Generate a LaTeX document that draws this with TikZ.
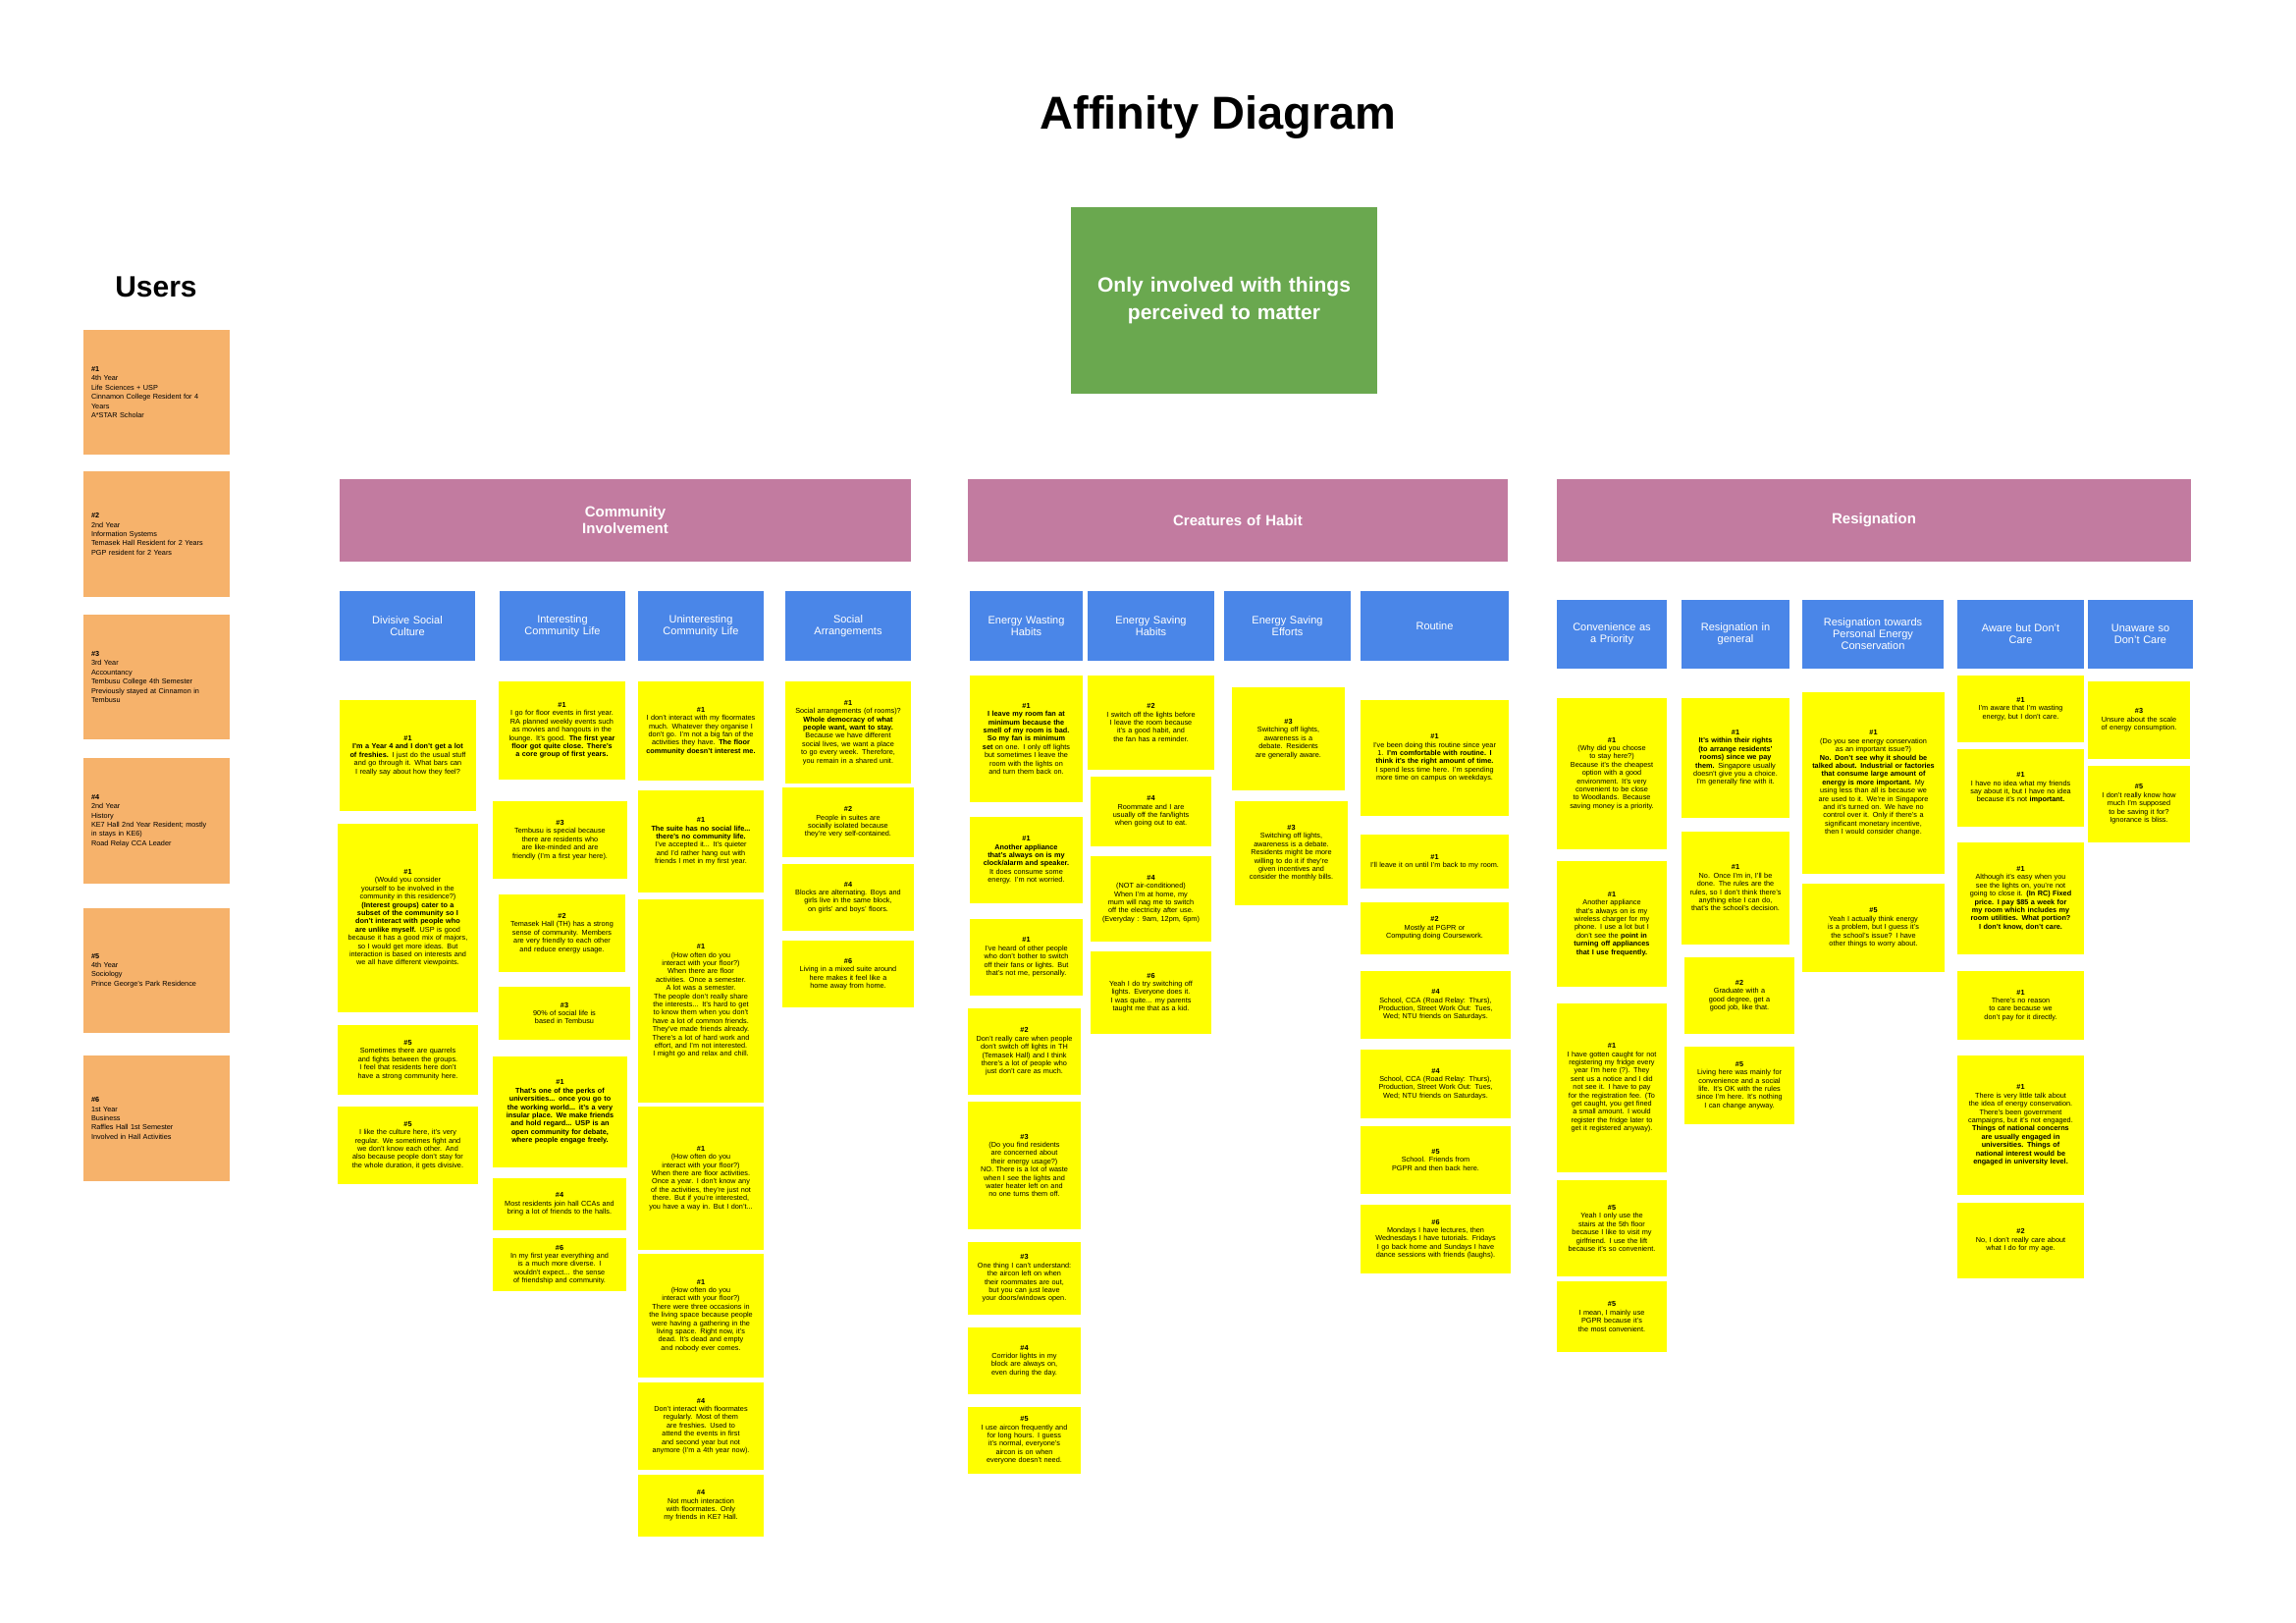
\documentclass[tikz,border=0pt]{standalone}
\usepackage{fontspec}
\setmainfont{Liberation Sans}
\definecolor{noteyellow}{HTML}{FFFF00}
\definecolor{userorange}{HTML}{F6B26B}
\definecolor{catpink}{HTML}{C27BA0}
\definecolor{subblue}{HTML}{4A86E8}
\definecolor{themegreen}{HTML}{6AA84F}
\hyphenpenalty=10000
\exhyphenpenalty=10000
\newcommand{\nr}[1]{\textbf{\##1}}
% \cardbox{style}{name}{x1}{y1}{x2}{y2}{text}: a filled card with its top left corner at (x1,y1)
\newcommand{\cardbox}[7]{%
  \pgfmathsetmacro{\cw}{#5-#3}%
  \pgfmathsetmacro{\ch}{#6-#4}%
  \pgfmathsetmacro{\ct}{#5-#3-16}%
  \node[#1, minimum width=\cw pt, minimum height=\ch pt, text width=\ct pt] (#2) at (#3,#4) {#7};}
\begin{document}
\begin{tikzpicture}[x=1pt,y=-1pt,
  card/.style={draw=none, inner sep=2pt, outer sep=0pt, anchor=north west, align=center},
  note/.style={card, fill=noteyellow, text=black, font=\fontsize{7.3}{8.4}\selectfont},
  user/.style={card, fill=userorange, text=black, align=left, font=\fontsize{7.3}{9.4}\selectfont},
  sub/.style={card, fill=subblue, text=white, font=\fontsize{11}{12}\selectfont},
  cat/.style={card, fill=catpink, text=white, font=\bfseries\fontsize{15}{17}\selectfont},
  theme/.style={card, fill=themegreen, text=white, font=\bfseries\fontsize{21}{28}\selectfont}]
\useasboundingbox[fill=white] (0,0) rectangle (2339,1653);

% titles
\node[font=\bfseries\fontsize{47}{56}\selectfont, anchor=base] (title) at (1241,132) {Affinity Diagram};
\node[font=\bfseries\fontsize{30}{36}\selectfont, anchor=base] (users) at (159,302) {Users};
\cardbox{theme}{theme}{1091}{211}{1403}{401}{Only involved with things\\ perceived to matter}

% users
\cardbox{user}{u1}{85}{336}{234}{463}{\nr{1}\\ 4th Year\\ Life Sciences + USP\\ Cinnamon College Resident for 4\\ Years\\ A*STAR Scholar}
\cardbox{user}{u2}{85}{480}{234}{608}{\nr{2}\\ 2nd Year\\ Information Systems\\ Temasek Hall Resident for 2 Years\\ PGP resident for 2 Years}
\cardbox{user}{u3}{85}{626}{234}{753}{\nr{3}\\ 3rd Year\\ Accountancy\\ Tembusu College 4th Semester\\ Previously stayed at Cinnamon in\\ Tembusu}
\cardbox{user}{u4}{85}{772}{234}{900}{\nr{4}\\ 2nd Year\\ History\\ KE7 Hall 2nd Year Resident; mostly\\ in stays in KE6)\\ Road Relay CCA Leader}
\cardbox{user}{u5}{85}{925}{234}{1052}{\nr{5}\\ 4th Year\\ Sociology\\ Prince George's Park Residence}
\cardbox{user}{u6}{85}{1075}{234}{1203}{\nr{6}\\ 1st Year\\ Business\\ Raffles Hall 1st Semester\\ Involved in Hall Activities}

% categories
\cardbox{cat}{catA}{346}{488}{928}{572}{Community\\ Involvement}
\cardbox{cat}{catB}{986}{488}{1536}{572}{Creatures of Habit}
\cardbox{cat}{catC}{1586}{488}{2232}{572}{Resignation}

% sub-categories
\cardbox{sub}{s1}{346}{602}{484}{673}{Divisive Social\\ Culture}
\cardbox{sub}{s2}{509}{602}{637}{673}{Interesting\\ Community Life}
\cardbox{sub}{s3}{650}{602}{778}{673}{Uninteresting\\ Community Life}
\cardbox{sub}{s4}{800}{602}{928}{673}{Social\\ Arrangements}
\cardbox{sub}{s5}{988}{602}{1103}{673}{Energy Wasting\\ Habits}
\cardbox{sub}{s6}{1108}{602}{1237}{673}{Energy Saving\\ Habits}
\cardbox{sub}{s7}{1247}{602}{1376}{673}{Energy Saving\\ Efforts}
\cardbox{sub}{s8}{1386}{602}{1537}{673}{Routine}
\cardbox{sub}{s9}{1586}{611}{1698}{681}{Convenience as\\ a Priority}
\cardbox{sub}{s10}{1713}{611}{1823}{681}{Resignation in\\ general}
\cardbox{sub}{s11}{1836}{611}{1980}{681}{Resignation towards\\ Personal Energy\\ Conservation}
\cardbox{sub}{s12}{1994}{611}{2123}{681}{Aware but Don't\\ Care}
\cardbox{sub}{s13}{2127}{611}{2234}{681}{Unaware so\\ Don't Care}

% Divisive Social Culture
\cardbox{note}{d1}{346}{713}{485}{826}{\nr{1}\\ \textbf{I'm a Year 4 and I don't get a lot of freshies.} I just do the usual stuff and go through it. What bars can I really say about how they feel?}
\cardbox{note}{d2}{344}{839}{487}{1031}{\nr{1}\\ (Would you consider yourself to be involved in the community in this residence?)\\ \textbf{(Interest groups) cater to a subset of the community so I don't interact with people who are unlike myself.} USP is good because it has a good mix of majors, so I would get more ideas. But interaction is based on interests and we all have different viewpoints.}
\cardbox{note}{d3}{344}{1044}{487}{1115}{\nr{5}\\ Sometimes there are quarrels and fights between the groups. I feel that residents here don't have a strong community here.}
\cardbox{note}{d4}{344}{1127}{487}{1206}{\nr{5}\\ I like the culture here, it's very regular. We sometimes fight and we don't know each other. And also because people don't stay for the whole duration, it gets divisive.}

% Interesting Community Life
\cardbox{note}{i1}{508}{694}{637}{794}{\nr{1}\\ I go for floor events in first year. RA planned weekly events such as movies and hangouts in the lounge. It's good. \textbf{The first year floor got quite close. There's a core group of first years.}}
\cardbox{note}{i2}{502}{816}{639}{895}{\nr{3}\\ Tembusu is special because there are residents who are like-minded and are friendly (I'm a first year here).}
\cardbox{note}{i3}{508}{911}{637}{990}{\nr{2}\\ Temasek Hall (TH) has a strong sense of community. Members are very friendly to each other and reduce energy usage.}
\cardbox{note}{i4}{508}{1005}{642}{1059}{\nr{3}\\ 90\% of social life is based in Tembusu}
\cardbox{note}{i5}{502}{1076}{639}{1189}{\nr{1}\\ \textbf{That's one of the perks of universities... once you go to the working world... it's a very insular place. We make friends and hold regard... USP is an open community for debate, where people engage freely.}}
\cardbox{note}{i6}{502}{1200}{638}{1253}{\nr{4}\\ Most residents join hall CCAs and bring a lot of friends to the halls.}
\cardbox{note}{i7}{502}{1261}{638}{1315}{\nr{6}\\ In my first year everything and is a much more diverse. I wouldn't expect... the sense of friendship and community.}

% Uninteresting Community Life
\cardbox{note}{x1}{650}{694}{778}{795}{\nr{1}\\ I don't interact with my floormates much. Whatever they organise I don't go. I'm not a big fan of the activities they have. \textbf{The floor community doesn't interest me.}}
\cardbox{note}{x2}{650}{805}{778}{909}{\nr{1}\\ \textbf{The suite has no social life... there's no community life.} I've accepted it... It's quieter and I'd rather hang out with friends I met in my first year.}
\cardbox{note}{x3}{650}{916}{778}{1123}{\nr{1}\\ (How often do you interact with your floor?)\\ When there are floor activities. Once a semester. A lot was a semester.\\ The people don't really share the interests... It's hard to get to know them when you don't have a lot of common friends. They've made friends already. There's a lot of hard work and effort, and I'm not interested. I might go and relax and chill.}
\cardbox{note}{x4}{650}{1127}{778}{1273}{\nr{1}\\ (How often do you interact with your floor?)\\ When there are floor activities. Once a year. I don't know any of the activities, they're just not there. But if you're interested, you have a way in. But I don't...}
\cardbox{note}{x5}{650}{1277}{778}{1403}{\nr{1}\\ (How often do you interact with your floor?)\\ There were three occasions in the living space because people were having a gathering in the living space. Right now, it's dead. It's dead and empty and nobody ever comes.}
\cardbox{note}{x6}{650}{1408}{778}{1497}{\nr{4}\\ Don't interact with floormates regularly. Most of them are freshies. Used to attend the events in first and second year but not anymore (I'm a 4th year now).}
\cardbox{note}{x7}{650}{1502}{778}{1565}{\nr{4}\\ Not much interaction with floormates. Only my friends in KE7 Hall.}

% Social Arrangements
\cardbox{note}{sa1}{800}{694}{928}{798}{\nr{1}\\ Social arrangements (of rooms)?\\ \textbf{Whole democracy of what people want, want to stay.} Because we have different social lives, we want a place to go every week. Therefore, you remain in a shared unit.}
\cardbox{note}{sa2}{797}{802}{931}{873}{\nr{2}\\ People in suites are socially isolated because they're very self-contained.}
\cardbox{note}{sa3}{797}{880}{931}{948}{\nr{4}\\ Blocks are alternating. Boys and girls live in the same block, on girls' and boys' floors.}
\cardbox{note}{sa4}{797}{958}{931}{1026}{\nr{6}\\ Living in a mixed suite around here makes it feel like a home away from home.}

% Energy Wasting Habits
\cardbox{note}{w1}{988}{688}{1103}{817}{\nr{1}\\ \textbf{I leave my room fan at minimum because the smell of my room is bad. So my fan is minimum set} on one. I only off lights but sometimes I leave the room with the lights on and turn them back on.}
\cardbox{note}{w2}{988}{832}{1103}{920}{\nr{1}\\ \textbf{Another appliance that's always on is my clock/alarm and speaker.} It does consume some energy. I'm not worried.}
\cardbox{note}{w3}{988}{936}{1103}{1014}{\nr{1}\\ I've heard of other people who don't bother to switch off their fans or lights. But that's not me, personally.}
\cardbox{note}{w4}{986}{1027}{1101}{1115}{\nr{2}\\ Don't really care when people don't switch off lights in TH (Temasek Hall) and I think there's a lot of people who just don't care as much.}
\cardbox{note}{w5}{986}{1122}{1101}{1252}{\nr{3}\\ (Do you find residents are concerned about their energy usage?)\\ NO. There is a lot of waste when I see the lights and water heater left on and no one turns them off.}
\cardbox{note}{w6}{986}{1265}{1101}{1339}{\nr{3}\\ One thing I can't understand: the aircon left on when their roommates are out, but you can just leave your doors/windows open.}
\cardbox{note}{w7}{986}{1352}{1101}{1420}{\nr{4}\\ Corridor lights in my block are always on, even during the day.}
\cardbox{note}{w8}{986}{1433}{1101}{1501}{\nr{5}\\ I use aircon frequently and for long hours. I guess it's normal, everyone's aircon is on when everyone doesn't need.}

% Energy Saving Habits
\cardbox{note}{h1}{1108}{688}{1237}{784}{\nr{2}\\ I switch off the lights before I leave the room because it's a good habit, and the fan has a reminder.}
\cardbox{note}{h2}{1111}{791}{1234}{862}{\nr{4}\\ Roommate and I are usually off the fan/lights when going out to eat.}
\cardbox{note}{h3}{1111}{872}{1234}{959}{\nr{4}\\ (NOT air-conditioned)\\ When I'm at home, my mum will nag me to switch off the electricity after use. (Everyday : 9am, 12pm, 6pm)}
\cardbox{note}{h4}{1111}{969}{1234}{1053}{\nr{6}\\ Yeah I do try switching off lights. Everyone does it. I was quite... my parents taught me that as a kid.}

% Energy Saving Efforts
\cardbox{note}{e1}{1255}{700}{1370}{805}{\nr{3}\\ Switching off lights, awareness is a debate. Residents are generally aware.}
\cardbox{note}{e2}{1258}{816}{1373}{922}{\nr{3}\\ Switching off lights, awareness is a debate. Residents might be more willing to do it if they're given incentives and consider the monthly bills.}

% Routine
\cardbox{note}{r1}{1386}{713}{1537}{831}{\nr{1}\\ I've been doing this routine since year 1. \textbf{I'm comfortable with routine. I think it's the right amount of time.} I spend less time here. I'm spending more time on campus on weekdays.}
\cardbox{note}{r2}{1386}{850}{1537}{905}{\nr{1}\\ I'll leave it on until I'm back to my room.}
\cardbox{note}{r3}{1386}{919}{1537}{972}{\nr{2}\\ Mostly at PGPR or Computing doing Coursework.}
\cardbox{note}{r4}{1386}{989}{1539}{1058}{\nr{4}\\ School, CCA (Road Relay: Thurs), Production, Street Work Out: Tues, Wed; NTU friends on Saturdays.}
\cardbox{note}{r5}{1386}{1069}{1539}{1139}{\nr{4}\\ School, CCA (Road Relay: Thurs), Production, Street Work Out: Tues, Wed; NTU friends on Saturdays.}
\cardbox{note}{r6}{1386}{1147}{1539}{1216}{\nr{5}\\ School. Friends from PGPR and then back here.}
\cardbox{note}{r7}{1386}{1227}{1539}{1297}{\nr{6}\\ Mondays I have lectures, then Wednesdays I have tutorials. Fridays I go back home and Sundays I have dance sessions with friends (laughs).}

% Convenience as a Priority
\cardbox{note}{c1}{1586}{711}{1698}{865}{\nr{1}\\ (Why did you choose to stay here?)\\ Because it's the cheapest option with a good environment. It's very convenient to be close to Woodlands. Because saving money is a priority.}
\cardbox{note}{c2}{1586}{877}{1698}{1005}{\nr{1}\\ Another appliance that's always on is my wireless charger for my phone. I use a lot but I don't see the \textbf{point in turning off appliances that I use frequently.}}
\cardbox{note}{c3}{1586}{1022}{1698}{1194}{\nr{1}\\ I have gotten caught for not registering my fridge every year I'm here (?). They sent us a notice and I did not see it. I have to pay for the registration fee. (To get caught, you get fined a small amount. I would register the fridge later to get it registered anyway).}
\cardbox{note}{c4}{1586}{1202}{1698}{1300}{\nr{5}\\ Yeah I only use the stairs at the 5th floor because I like to visit my girlfriend. I use the lift because it's so convenient.}
\cardbox{note}{c5}{1586}{1305}{1698}{1377}{\nr{5}\\ I mean, I mainly use PGPR because it's the most convenient.}

% Resignation in general
\cardbox{note}{g1}{1713}{711}{1823}{833}{\nr{1}\\ \textbf{It's within their rights (to arrange residents' rooms) since we pay them.} Singapore usually doesn't give you a choice. I'm generally fine with it.}
\cardbox{note}{g2}{1713}{847}{1823}{962}{\nr{1}\\ No. Once I'm in, I'll be done. The rules are the rules, so I don't think there's anything else I can do, that's the school's decision.}
\cardbox{note}{g3}{1716}{975}{1828}{1053}{\nr{2}\\ Graduate with a good degree, get a good job, like that.}
\cardbox{note}{g4}{1716}{1066}{1828}{1145}{\nr{5}\\ Living here was mainly for convenience and a social life. It's OK with the rules since I'm here. It's nothing I can change anyway.}

% Resignation towards Personal Energy Conservation
\cardbox{note}{p1}{1836}{705}{1981}{890}{\nr{1}\\ (Do you see energy conservation as an important issue?)\\ \textbf{No. Don't see why it should be talked about. Industrial or factories that consume large amount of energy is more important.} My using less than all is because we are used to it. We're in Singapore and it's turned on. We have no control over it. Only if there's a significant monetary incentive, then I would consider change.}
\cardbox{note}{p2}{1836}{900}{1981}{990}{\nr{5}\\ Yeah I actually think energy is a problem, but I guess it's the school's issue? I have other things to worry about.}

% Aware but Don't Care
\cardbox{note}{a1}{1994}{688}{2123}{756}{\nr{1}\\ I'm aware that I'm wasting energy, but I don't care.}
\cardbox{note}{a2}{1994}{763}{2123}{842}{\nr{1}\\ I have no idea what my friends say about it, but I have no idea because it's not \textbf{important.}}
\cardbox{note}{a3}{1994}{858}{2123}{972}{\nr{1}\\ Although it's easy when you see the lights on, you're not going to close it. \textbf{(In RC) Fixed price. I pay \$85 a week for my room which includes my room utilities. What portion? I don't know, don't care.}}
\cardbox{note}{a4}{1994}{989}{2123}{1059}{\nr{1}\\ There's no reason to care because we don't pay for it directly.}
\cardbox{note}{a5}{1994}{1075}{2123}{1217}{\nr{1}\\ There is very little talk about the idea of energy conservation. There's been government campaigns, but it's not engaged. \textbf{Things of national concerns are usually engaged in universities. Things of national interest would be engaged in university level.}}
\cardbox{note}{a6}{1994}{1225}{2123}{1302}{\nr{2}\\ No, I don't really care about what I do for my age.}

% Unaware so Don't Care
\cardbox{note}{z1}{2127}{694}{2231}{773}{\nr{3}\\ Unsure about the scale of energy consumption.}
\cardbox{note}{z2}{2127}{780}{2231}{858}{\nr{5}\\ I don't really know how much I'm supposed to be saving it for? Ignorance is bliss.}
\end{tikzpicture}
\end{document}
